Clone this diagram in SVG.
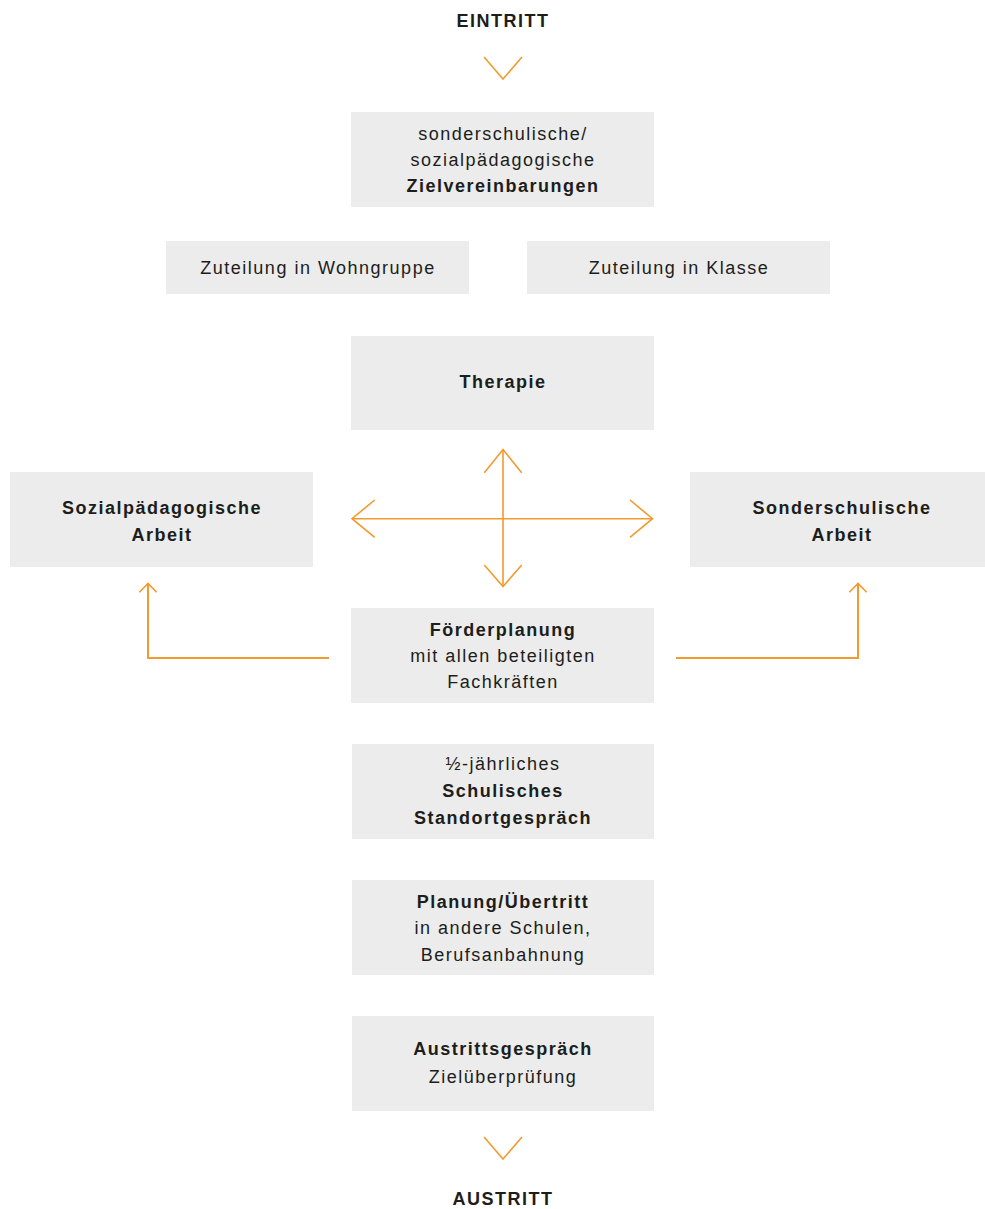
<svg xmlns="http://www.w3.org/2000/svg" width="985" height="1209" viewBox="0 0 985 1209">
<style>
  .box { fill: #EBECEB; }
  text { font-family: "Liberation Sans", Arial, sans-serif; font-size: 18px; fill: #1D1D1B; text-anchor: middle; letter-spacing: 1.5px; }
  .b { font-weight: bold; }
  .ln { fill: none; stroke: #F39A2E; stroke-width: 1.6; stroke-linecap: butt; stroke-linejoin: miter; }
  .ln2 { fill: none; stroke: #F39A2E; stroke-width: 2; }
</style>
<rect width="985" height="1209" fill="#FFFFFF"/>

<g id="eintritt">
  <text class="b" x="503" y="27">EINTRITT</text>
</g>

<g id="zielvereinbarungen">
  <rect class="box" x="351" y="112" width="303" height="95"/>
  <text x="503" y="139.5">sonderschulische/</text>
  <text x="503" y="166">sozialpädagogische</text>
  <text class="b" x="503" y="192">Zielvereinbarungen</text>
</g>

<g id="wohngruppe">
  <rect class="box" x="166" y="241" width="303" height="53"/>
  <text x="318" y="274">Zuteilung in Wohngruppe</text>
</g>

<g id="klasse">
  <rect class="box" x="527" y="241" width="303" height="53"/>
  <text x="679" y="274">Zuteilung in Klasse</text>
</g>

<g id="therapie">
  <rect class="box" x="351" y="336" width="303" height="94"/>
  <text class="b" x="503" y="388">Therapie</text>
</g>

<g id="sozialpaedagogische-arbeit">
  <rect class="box" x="10" y="472" width="303" height="95"/>
  <text class="b" x="162" y="514">Sozialpädagogische</text>
  <text class="b" x="162" y="541">Arbeit</text>
</g>

<g id="sonderschulische-arbeit">
  <rect class="box" x="690" y="472" width="303" height="95"/>
  <text class="b" x="842" y="514">Sonderschulische</text>
  <text class="b" x="842" y="541">Arbeit</text>
</g>

<g id="foerderplanung">
  <rect class="box" x="351" y="608" width="303" height="95"/>
  <text class="b" x="503" y="635.5">Förderplanung</text>
  <text x="503" y="662">mit allen beteiligten</text>
  <text x="503" y="688">Fachkräften</text>
</g>

<g id="standortgespraech">
  <rect class="box" x="352" y="744" width="302" height="95"/>
  <text x="503" y="770">½-jährliches</text>
  <text class="b" x="503" y="797">Schulisches</text>
  <text class="b" x="503" y="823.5">Standortgespräch</text>
</g>

<g id="planung-uebertritt">
  <rect class="box" x="352" y="880" width="302" height="95"/>
  <text class="b" x="503" y="907.5">Planung/Übertritt</text>
  <text x="503" y="934">in andere Schulen,</text>
  <text x="503" y="960.5">Berufsanbahnung</text>
</g>

<g id="austrittsgespraech">
  <rect class="box" x="352" y="1016" width="302" height="95"/>
  <text class="b" x="503" y="1055">Austrittsgespräch</text>
  <text x="503" y="1082.5">Zielüberprüfung</text>
</g>

<g id="austritt">
  <text class="b" x="503" y="1205">AUSTRITT</text>
</g>

<g id="connectors">
  <polyline class="ln" points="484,57 503,79 522,57"/>
  <polyline class="ln" points="484,1137 503,1159 522,1137"/>
  <!-- cross -->
  <line class="ln" x1="503" y1="449.5" x2="503" y2="586.5"/>
  <line class="ln" x1="352" y1="518.7" x2="652.5" y2="518.7"/>
  <polyline class="ln" points="484.3,472.7 503,449.5 521.7,472.7"/>
  <polyline class="ln" points="484.3,565 503,586.5 521.7,565"/>
  <polyline class="ln" points="374.7,500 352,518.7 374.7,537.3"/>
  <polyline class="ln" points="630,500 652.5,518.7 630,537.3"/>
  <!-- L connectors -->
  <polyline class="ln2" points="329,658 148,658 148,583.5"/>
  <polyline class="ln" points="139.3,592.3 148,583.5 156.7,592.3"/>
  <polyline class="ln2" points="676,658 858,658 858,583.5"/>
  <polyline class="ln" points="849.3,592.3 858,583.5 866.7,592.3"/>
</g>
</svg>
